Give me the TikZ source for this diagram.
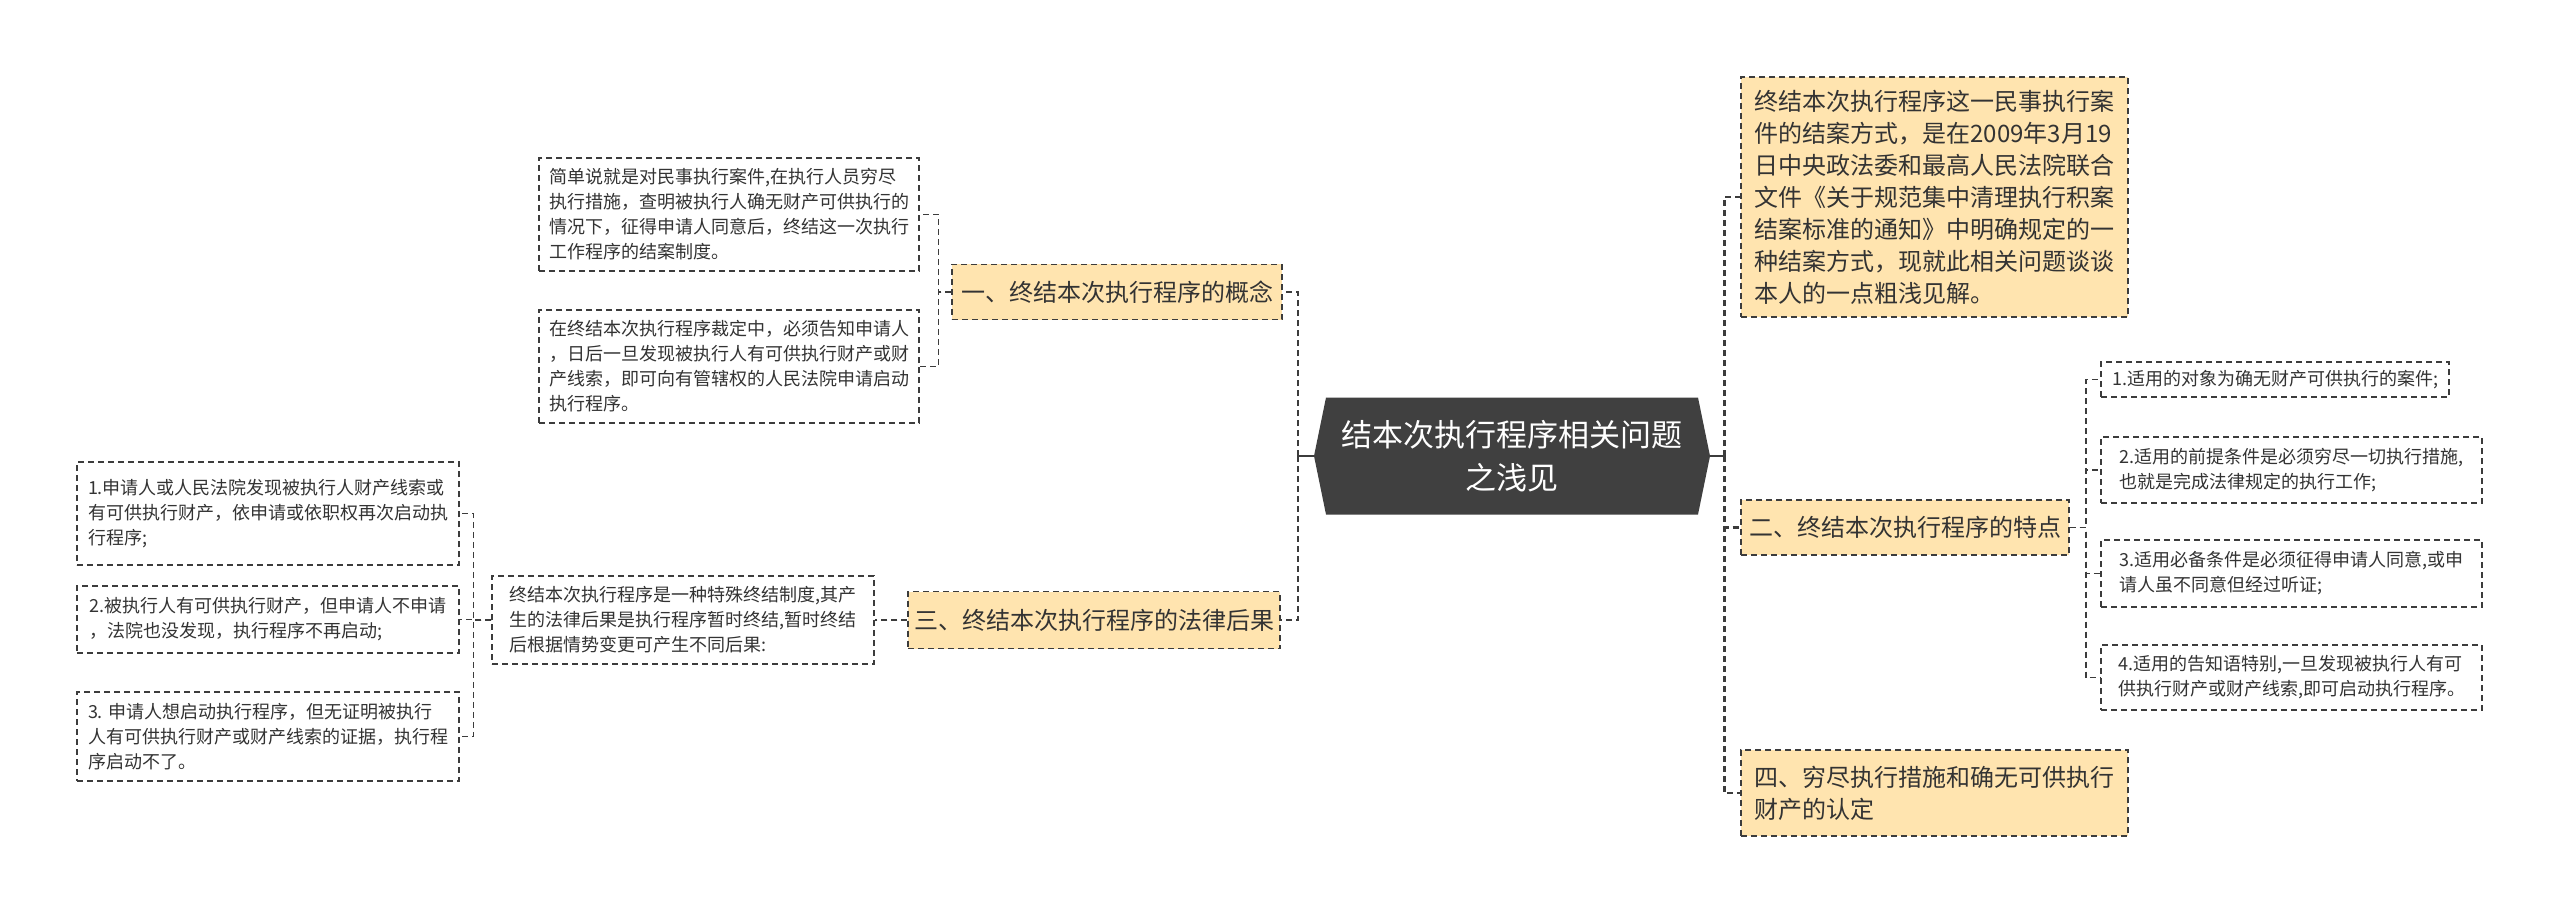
\documentclass[tikz,border=0pt]{standalone}
\usepackage{fontspec}
\setmainfont{Noto Sans CJK SC}
\definecolor{rootgray}{HTML}{404040}
\definecolor{hlyellow}{HTML}{FFE4AF}
\definecolor{edgegray}{HTML}{3C3C3C}
\definecolor{txt}{HTML}{333333}
\begin{document}
\begin{tikzpicture}[x=1pt,y=-1pt,
  box/.style={draw=edgegray, line width=1.5pt, dash pattern=on 6pt off 4pt, text=txt, align=left, inner sep=0pt},
  leaf/.style={box, fill=white, font=\fontsize{18}{25}\selectfont},
  branch/.style={box, fill=hlyellow, font=\fontsize{24}{32}\selectfont},
  rootbox/.style={inner sep=0pt, text=white, align=center, font=\fontsize{31}{43}\selectfont,
    minimum width=396pt, minimum height=117pt,
    path picture={\fill[rootgray] ([xshift=12pt]path picture bounding box.north west) -- ([xshift=-12pt]path picture bounding box.north east) -- (path picture bounding box.east) -- ([xshift=-12pt]path picture bounding box.south east) -- ([xshift=12pt]path picture bounding box.south west) -- (path picture bounding box.west) -- cycle;}},
  link/.style={draw=edgegray, line width=1.5pt, dash pattern=on 6pt off 4pt},
  trunk/.style={draw=edgegray, line width=2.6pt, dash pattern=on 6pt off 4pt},
  stub/.style={draw=edgegray, line width=2pt}
]
\fill[white] (0,0) rectangle (2560,912);
\useasboundingbox (0,0) rectangle (2560,912);

\node[rootbox] (root) at (1512,456) {结本次执行程序相关问题\\之浅见};

% left side
\node[branch, minimum width=330pt, minimum height=55pt] (b1) at (1117,292) {一、终结本次执行程序的概念};
\node[leaf, minimum width=380pt, minimum height=113pt] (a1) at (729,214.5) {简单说就是对民事执行案件,在执行人员穷尽\\执行措施，查明被执行人确无财产可供执行的\\情况下，征得申请人同意后，终结这一次执行\\工作程序的结案制度。};
\node[leaf, minimum width=380pt, minimum height=113pt] (a2) at (729,366.5) {在终结本次执行程序裁定中，必须告知申请人\\，日后一旦发现被执行人有可供执行财产或财\\产线索，即可向有管辖权的人民法院申请启动\\执行程序。};

\node[branch, minimum width=372pt, minimum height=57pt] (b3) at (1094,620) {三、终结本次执行程序的法律后果};
\node[leaf, minimum width=382pt, minimum height=88pt] (c) at (683,620) {终结本次执行程序是一种特殊终结制度,其产\\生的法律后果是执行程序暂时终结,暂时终结\\后根据情势变更可产生不同后果:};
\node[leaf, minimum width=382pt, minimum height=103pt] (g1) at (268,513.5) {1.申请人或人民法院发现被执行人财产线索或\\有可供执行财产，依申请或依职权再次启动执\\行程序;};
\node[leaf, minimum width=382pt, minimum height=67pt] (g2) at (268,619.5) {2.被执行人有可供执行财产，但申请人不申请\\，法院也没发现，执行程序不再启动;};
\node[leaf, minimum width=382pt, minimum height=89pt] (g3) at (268,736.5) {3. 申请人想启动执行程序，但无证明被执行\\人有可供执行财产或财产线索的证据，执行程\\序启动不了。};

% right side
\node[branch, minimum width=387pt, minimum height=240pt] (r1) at (1934.5,197) {终结本次执行程序这一民事执行案\\件的结案方式，是在2009年3月19\\日中央政法委和最高人民法院联合\\文件《关于规范集中清理执行积案\\结案标准的通知》中明确规定的一\\种结案方式，现就此相关问题谈谈\\本人的一点粗浅见解。};
\node[branch, minimum width=328pt, minimum height=55pt] (b2) at (1905,527.5) {二、终结本次执行程序的特点};
\node[branch, minimum width=387pt, minimum height=86pt] (b4) at (1934.5,793) {四、穷尽执行措施和确无可供执行\\财产的认定};
\node[leaf, minimum width=348pt, minimum height=35pt] (s1) at (2275,379.5) {1.适用的对象为确无财产可供执行的案件;};
\node[leaf, minimum width=381pt, minimum height=66pt] (s2) at (2291.5,470) {2.适用的前提条件是必须穷尽一切执行措施,\\也就是完成法律规定的执行工作;};
\node[leaf, minimum width=381pt, minimum height=67pt] (s3) at (2291.5,573.5) {3.适用必备条件是必须征得申请人同意,或申\\请人虽不同意但经过听证;};
\node[leaf, minimum width=381pt, minimum height=65pt] (s4) at (2291.5,677.5) {4.适用的告知语特别,一旦发现被执行人有可\\供执行财产或财产线索,即可启动执行程序。};

% connectors
\draw[stub] (root.west) -- ++(-16,0) coordinate (lj);
\draw[trunk] (lj) |- (b1.east);
\draw[trunk] (lj) |- (b3.east);
\draw[stub] (root.east) -- ++(14,0) coordinate (rj);
\draw[trunk] (rj) |- (r1.west);
\draw[trunk] (rj) |- (b2.west);
\draw[trunk] (rj) |- (b4.west);

\draw[link] (b1.west) -- ++(-13,0) |- (a1.east);
\draw[link] (b1.west) -- ++(-13,0) |- (a2.east);
\draw[link] (b3.west) -- (c.east);
\draw[link] (c.west) -- ++(-18,0) |- (g1.east);
\draw[link] (c.west) -- ++(-18,0) |- (g2.east);
\draw[link] (c.west) -- ++(-18,0) |- (g3.east);
\draw[link] (b2.east) -- ++(16,0) |- (s1.west);
\draw[link] (b2.east) -- ++(16,0) |- (s2.west);
\draw[link] (b2.east) -- ++(16,0) |- (s3.west);
\draw[link] (b2.east) -- ++(16,0) |- (s4.west);
\end{tikzpicture}
\end{document}
